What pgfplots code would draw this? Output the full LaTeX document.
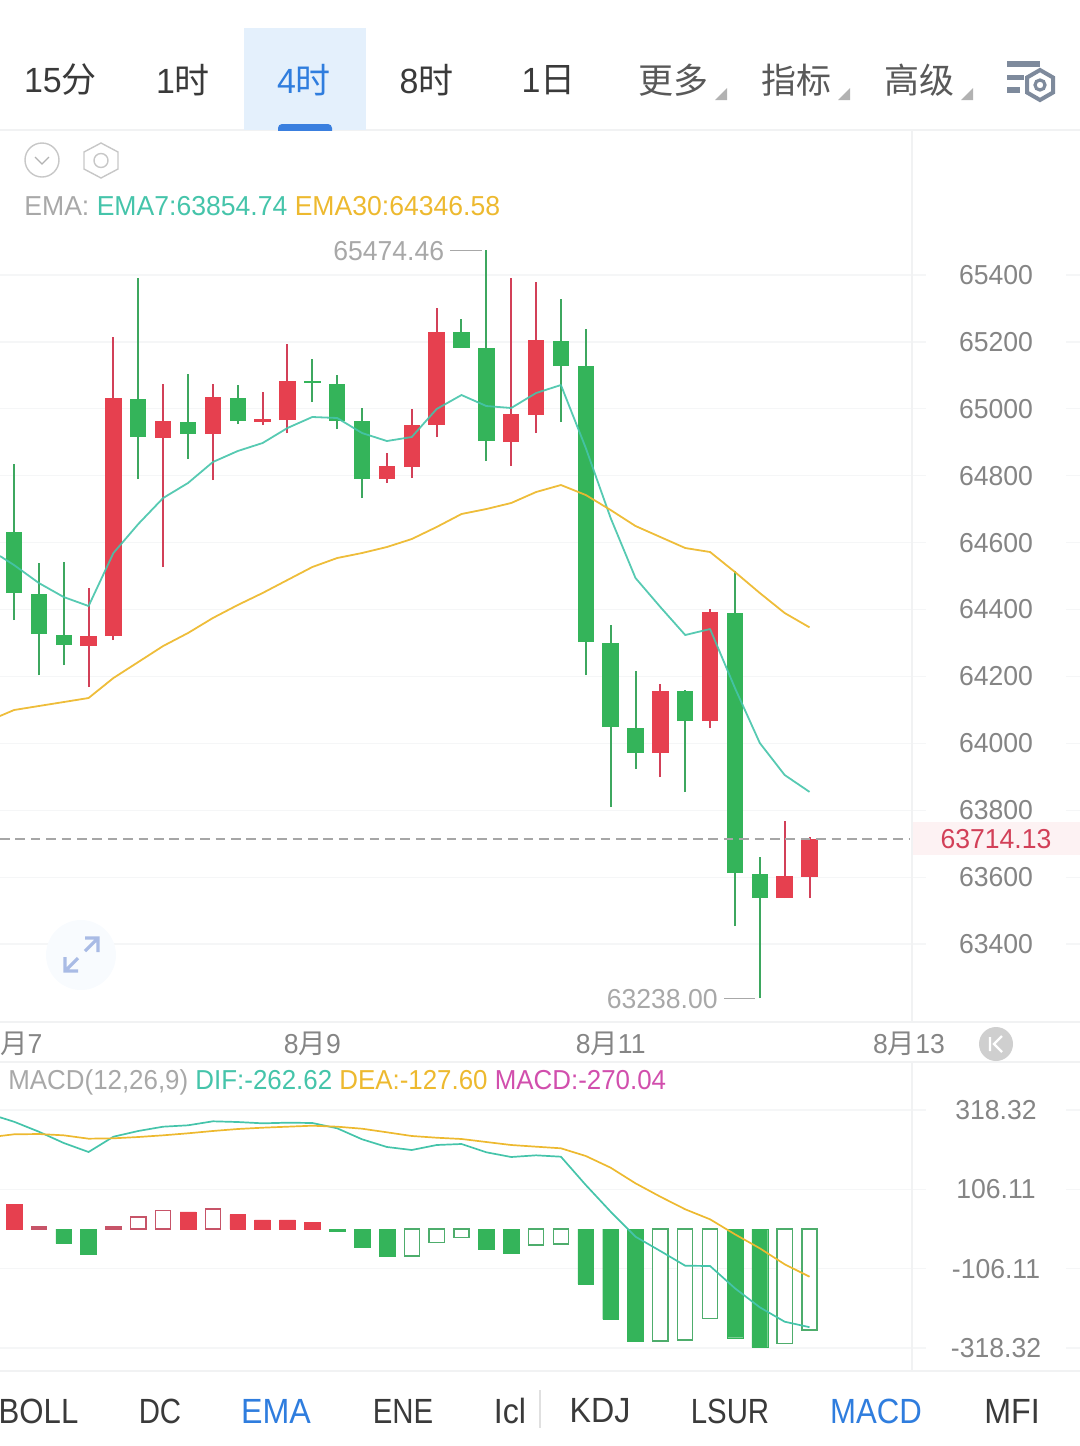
\documentclass[border=0pt]{standalone}
\usepackage{fontspec}
\setmainfont[FakeStretch=0.97]{Liberation Sans}
\newfontfamily\cjk{Noto Sans CJK SC}
\newfontfamily\macdfam[FakeStretch=0.945]{Liberation Sans}
\newfontfamily\tabA[FakeStretch=0.84]{Liberation Sans}
\newfontfamily\tabB[FakeStretch=0.89]{Liberation Sans}
\newfontfamily\tabC[FakeStretch=0.92]{Liberation Sans}
\usepackage{pgfplots}
\usepackage{pgfplotstable}
\pgfplotsset{compat=1.18}
\definecolor{cgreen}{HTML}{34B45A}
\definecolor{cgreenw}{HTML}{3DA75F}
\definecolor{cred}{HTML}{E6404F}
\definecolor{credw}{HTML}{D24058}
\definecolor{credo}{HTML}{C75468}
\definecolor{cgreeno}{HTML}{4EAD6C}
\definecolor{cteal}{HTML}{45C4AA}
\definecolor{cyel}{HTML}{EDB92F}
\definecolor{cpink}{HTML}{D14FAD}
\definecolor{cgrid}{HTML}{F5F6F7}
\definecolor{cline}{HTML}{F1F2F3}
\definecolor{ctick}{HTML}{858585}
\definecolor{clab}{HTML}{A8A8A8}
\definecolor{cblue}{HTML}{2F7DDE}
\definecolor{cdark}{HTML}{3A3A3A}
\definecolor{chigh}{HTML}{E4F0FC}
\definecolor{cund}{HTML}{3A7FDF}
\definecolor{cicon}{HTML}{7E8A9C}
\definecolor{cexp}{HTML}{F8FBFE}
\definecolor{cexpa}{HTML}{A9BBE5}
\definecolor{ckb}{HTML}{CFCFCF}
\newcommand{\tabf}{\fontsize{17.5}{20}\selectfont}
\newcommand{\tickf}{\fontsize{13.7}{15}\selectfont}

\pgfplotstableread{
x high top bot low
0 64835 64631.7 64449.3 64368.6
1 64539 64446.3 64326.7 64204.2
2 64542 64323.7 64293.8 64234
5 65391 65029.3 64915.7 64790.1
7 65104 64960.5 64924.6 64849.9
9 65071.1 65032.3 64963.5 64954.5
12 65148.9 65083.1 65077.1 65020.3
13 65101 65074.1 64963.5 64939.6
14 65002.4 64963.5 64790.1 64733.3
18 65268.4 65229.6 65181.7 65181.7
19 65474.46 65181.7 64903.7 64843.9
22 65328.2 65202.7 65127.9 64960.5
23 65238.5 65127.9 64302.8 64204.2
24 64353.6 64299.8 64048.7 63809.5
25 64216.1 64045.7 63971 63923.1
27 64159.3 64156.3 64066.6 63854.4
29 64515.1 64389.5 63612.2 63453.8
30 63660.1 63609.2 63537.5 63238
}\greencandles
\pgfplotstableread{
x high top bot low
3 64464.2 64320.8 64290.9 64168.3
4 65214.6 65032.3 64320.8 64308.8
6 65074.1 64963.5 64912.7 64527
8 65074.1 65035.2 64924.6 64787.1
10 65050.2 64969.5 64960.5 64951.5
11 65193.7 65083.1 64966.5 64927.6
15 64867.8 64829 64790.1 64778.2
16 64999.4 64951.5 64826 64793.1
17 65301.3 65229.6 64951.5 64915.7
20 65391 64984.4 64900.7 64829
21 65379 65205.7 64981.4 64927.6
26 64177.3 64156.3 63971 63899.2
28 64401.5 64392.5 64066.6 64045.7
31 63767.7 63603.3 63537.5 63537.5
32 63719.9 63714.13 63600.3 63537.5
}\redcandles
\pgfplotstableread{
x y
-0.563 64559.9
0 64533
1 64479.2
2 64437.3
3 64410.4
4 64568.9
5 64655.6
6 64733.3
7 64778.2
8 64840.9
9 64873.8
10 64897.7
11 64942.6
12 64975.5
13 64972.5
14 64927.6
15 64903.7
16 64915.7
17 64999.4
18 65041.2
19 65008.3
20 65002.4
21 65047.2
22 65071.1
23 64882.8
24 64673.5
25 64494.1
26 64407.4
27 64323.7
28 64341.7
29 64165.3
30 64000.9
31 63905.2
32 63854.74
}\emaseven
\pgfplotstableread{
x y
-0.563 64081.6
0 64099.5
1 64111.5
2 64123.4
3 64135.4
4 64195.2
5 64243
6 64290.9
7 64329.7
8 64374.6
9 64413.4
10 64449.3
11 64488.2
12 64527
13 64553.9
14 64568.9
15 64586.8
16 64610.7
17 64646.6
18 64685.5
19 64700.4
20 64718.4
21 64751.2
22 64772.2
23 64742.3
24 64697.4
25 64649.6
26 64616.7
27 64583.8
28 64571.9
29 64512.1
30 64449.3
31 64389.5
32 64346.58
}\ematirty
\pgfplotstableread{
x y
-0.563 298.8
0 287
1 260.3
2 230.1
3 206
4 246.9
5 262.2
6 273.7
7 277.4
8 288.1
9 286.2
10 282.7
11 284.4
12 283.6
13 269.4
14 240
15 219.4
16 211.3
17 224.7
18 227.4
19 205.2
20 192.6
21 197.1
22 193.4
23 117.7
24 46.3
25 -20.6
26 -58.9
27 -98.2
28 -99
29 -158.6
30 -209.5
31 -248
32 -262.62
}\dif
\pgfplotstableread{
x y
-0.563 248.8
0 253.3
1 254.1
2 250.6
3 241.6
4 242.6
5 246.1
6 250.6
7 256
8 262.2
9 267.5
10 271
11 273.7
12 276.3
13 273.7
14 268.3
15 258.7
16 248.8
17 244.2
18 240.8
19 232.7
20 224.7
21 220.2
22 215.9
23 195.3
24 164
25 122.2
26 86.4
27 52.7
28 25.9
29 -14.2
30 -51.6
31 -94.4
32 -127.6
}\dea

\begin{document}
\begin{tikzpicture}[x=0.5pt,y=-0.5pt]
\useasboundingbox (0,0) rectangle (1080,1446);
\clip (0,0) rectangle (1080,1446);

% ---- price panel
\begin{axis}[
  at={(0pt,-511pt)}, anchor=south west,
  scale only axis, width=540pt, height=446pt,
  xmin=-0.563, xmax=42.88, ymin=63166.8, ymax=65833.5,
  scaled ticks=false,
  axis y line*=right, axis x line*=bottom,
  y axis line style={draw=none},
  x axis line style={draw=cline,line width=0.8pt,-},
  major tick length=0pt,
  ytick={63400,63600,63800,64000,64200,64400,64600,64800,65000,65200,65400},
  yticklabels={63400,63600,63800,64000,64200,64400,64600,64800,65000,65200,65400},
  ymajorgrids, grid style={draw=cgrid,line width=0.6pt},
  yticklabel style={font=\tickf, text=ctick, anchor=center, xshift=-42pt,
     fill=white, inner sep=0pt, minimum width=70pt, minimum height=9pt},
  xtick={0,12,24,36},
  xticklabels={8{\cjk 月}7,8{\cjk 月}9,8{\cjk 月}11,8{\cjk 月}13},
  xticklabel style={font=\tickf, text=ctick, anchor=center, yshift=-11pt},
]
\addplot[draw=none,mark=none,forget plot,error bars/.cd,y dir=plus,y explicit,error mark=none,
  error bar style={draw=cgreenw,line width=1pt}]
  table[x=x,y=low,y error plus expr=\thisrow{high}-\thisrow{low}] {\greencandles};
\addplot[draw=none,mark=none,forget plot,error bars/.cd,y dir=plus,y explicit,error mark=none,
  error bar style={draw=credw,line width=1pt}]
  table[x=x,y=low,y error plus expr=\thisrow{high}-\thisrow{low}] {\redcandles};
\addplot[draw=none,mark=none,forget plot,error bars/.cd,y dir=plus,y explicit,error mark=none,
  error bar style={draw=cgreen,line width=8.2pt}]
  table[x=x,y=bot,y error plus expr=\thisrow{top}-\thisrow{bot}] {\greencandles};
\addplot[draw=none,mark=none,forget plot,error bars/.cd,y dir=plus,y explicit,error mark=none,
  error bar style={draw=cred,line width=8.2pt}]
  table[x=x,y=bot,y error plus expr=\thisrow{top}-\thisrow{bot}] {\redcandles};
\addplot[cteal,line width=0.9pt,opacity=0.9,mark=none,line join=round] table[x=x,y=y] {\emaseven};
\addplot[cyel,line width=0.9pt,opacity=0.95,mark=none,line join=round] table[x=x,y=y] {\ematirty};
\addplot[draw=black!35,line width=0.7pt,dash pattern=on 4.8pt off 2.9pt,mark=none]
  coordinates {(-0.563,63714.13) (36,63714.13)};
% annotations
\fill[cred!7] (axis cs:36.12,63764.7) rectangle (axis cs:42.88,63665.9);
\node[font=\tickf,text=credw] at (axis cs:39.5,63714.13) {63714.13};
\node[font=\tickf,text=clab,anchor=east,inner sep=0pt] at (axis cs:17.32,65471) {65474.46};
\draw[clab,line width=0.5pt] (axis cs:17.55,65474.46) -- (axis cs:18.83,65474.46);
\node[font=\tickf,text=clab,anchor=east,inner sep=0pt] at (axis cs:28.32,63235) {63238.00};
\draw[clab,line width=0.5pt] (axis cs:28.56,63238) -- (axis cs:29.8,63238);
\end{axis}

% ---- MACD panel
\begin{axis}[
  at={(0pt,-685.5pt)}, anchor=south west,
  scale only axis, width=540pt, height=154.5pt,
  xmin=-0.563, xmax=42.88, ymin=-379.9, ymax=446.7,
  scaled ticks=false,
  axis y line*=right, axis x line*=bottom,
  y axis line style={draw=none},
  x axis line style={draw=cline,line width=0.8pt,-},
  major tick length=0pt,
  xtick=\empty,
  ytick={-318.32,-106.11,106.11,318.32},
  yticklabels={-318.32,-106.11,106.11,318.32},
  ymajorgrids, grid style={draw=cgrid,line width=0.6pt},
  yticklabel style={font=\tickf, text=ctick, anchor=center, xshift=-42pt,
     fill=white, inner sep=0pt, minimum width=70pt, minimum height=9pt},
]
\addplot[ybar,bar shift=0pt,bar width=7.9pt,draw=cgreen,fill=cgreen,line width=0.2pt,forget plot] coordinates {
 (2,-39.3) (3,-66.9) (13,-6.2) (14,-49) (15,-72.2) (19,-54.3) (20,-65)
 (23,-147.1) (24,-241.6) (25,-300.4) (29,-290.8) (30,-316.5)};
\addplot[ybar,bar shift=0pt,bar width=7.6pt,draw=cgreeno,fill=white,line width=0.65pt,forget plot] coordinates {
 (16,-72.2) (17,-36.6) (18,-23.3) (21,-42.8) (22,-40.1) (26,-299.6) (27,-296.9)
 (28,-238.9) (31,-305.8) (32,-270.04)};
\addplot[ybar,bar shift=0pt,bar width=7.9pt,draw=cred,fill=cred,line width=0.2pt,forget plot] coordinates {
 (0,66.1) (7,45.5) (9,38.3) (10,24.1) (11,24.1) (12,16.9)};
\addplot[ybar,bar shift=0pt,bar width=7.6pt,draw=credo,fill=white,line width=0.65pt,forget plot] coordinates {
 (1,5.4) (4,5.4) (5,32.1) (6,49) (8,53.5)};
\addplot[cteal,line width=0.85pt,mark=none,line join=round] table[x=x,y=y] {\dif};
\addplot[cyel,line width=0.85pt,mark=none,line join=round] table[x=x,y=y] {\dea};
\end{axis}

% ---- chrome
\draw[cline,line width=0.8pt] (0,130) -- (1080,130);
\draw[cline,line width=0.8pt] (0,1062) -- (1080,1062);
\draw[cline,line width=0.8pt] (912,130) -- (912,1022);
\draw[cline,line width=0.8pt] (912,1062) -- (912,1371);
% top tabs
\fill[chigh] (244,28) rectangle (366,130);
\begin{scope}
\clip (244,110) rectangle (366,130);
\fill[cund,rounded corners=2pt] (278,124) rectangle (332,140);
\end{scope}
\foreach \xx/\tt in {60.5/15{\cjk 分},183/1{\cjk 时},426.5/8{\cjk 时},548.5/1{\cjk 日}}
  \node[font=\tabf,text=cdark,inner sep=0pt] at (\xx,80) {\tt};
\node[font=\tabf,text=cblue,inner sep=0pt] at (304,80) {4{\cjk 时}};
\foreach \xx/\tt in {673/更多,796/指标,919/高级}
  \node[font={\tabf\cjk},text=black!65,inner sep=0pt] at (\xx,80) {\tt};
\foreach \xx in {727,850,973}
  \fill[black!30] (\xx,88) -- (\xx,100) -- (\xx-12,100) -- cycle;
% settings icon
\fill[cicon] (1007,61) rectangle (1040,67);
\fill[cicon] (1007,75) rectangle (1024,80);
\fill[cicon] (1007,87) rectangle (1020,93);
\draw[cicon,line width=2pt,fill=white] (1040,70) -- (1053,77.5) -- (1053,92.5) -- (1040,100) -- (1027,92.5) -- (1027,77.5) -- cycle;
\draw[cicon,line width=1.6pt] (1040,85) circle[radius=5];
% small icons
\draw[black!22,line width=0.7pt] (42,160) circle[radius=17];
\draw[black!30,line width=0.7pt] (35,157) -- (42,164) -- (49,157);
\draw[black!22,line width=0.7pt] (101,143) -- (118,152) -- (118,169) -- (101,178) -- (84,169) -- (84,152) -- cycle;
\draw[black!22,line width=0.7pt] (101,160.5) circle[radius=7];
% legends
\node[anchor=west,inner sep=0pt,font=\tickf] at (24,206.5)
  {\textcolor{clab}{EMA:} \textcolor{cteal}{EMA7:63854.74} \textcolor{cyel}{EMA30:64346.58}};
\node[anchor=west,inner sep=0pt,font=\tickf\macdfam] at (8,1082)
  {\textcolor{clab}{MACD(12,26,9)} \textcolor{cteal}{DIF:-262.62} \textcolor{cyel}{DEA:-127.60} \textcolor{cpink}{MACD:-270.04}};
% expand icon
\fill[cexp] (81,955) circle[radius=35];
\draw[cexpa,line width=1.6pt] (85,951) -- (98,938) (85,938) -- (98,938) -- (98,952);
\draw[cexpa,line width=1.6pt] (78,958) -- (65,971) (65,957) -- (65,971) -- (78,971);
% K button
\fill[ckb] (996,1044) circle[radius=17];
\draw[white,line width=1.2pt] (990,1037) -- (990,1051) (1002,1036) -- (994,1044) -- (1002,1052);
% bottom tabs
\node[font=\tabf\tabB,text=cdark,inner sep=0pt] at (38.5,1411) {BOLL};
\node[font=\tabf\tabA,text=cdark,inner sep=0pt] at (160,1411) {DC};
\node[font=\tabf\tabA,text=cdark,inner sep=0pt] at (403,1411) {ENE};
\node[font=\tabf\tabC,text=cdark,inner sep=0pt] at (600,1411) {KDJ};
\node[font=\tabf\tabA,text=cdark,inner sep=0pt] at (730,1411) {LSUR};
\node[font=\tabf\tabC,text=cdark,inner sep=0pt] at (1012,1411) {MFI};
\node[font=\tabf\tabC,text=cdark,inner sep=0pt] at (510,1411) {Icl};
\node[font=\tabf\tabC,text=cblue,inner sep=0pt] at (276,1411) {EMA};
\node[font=\tabf\tabB,text=cblue,inner sep=0pt] at (876,1411) {MACD};
\draw[black!12,line width=0.6pt] (540,1390) -- (540,1428);
\end{tikzpicture}
\end{document}
